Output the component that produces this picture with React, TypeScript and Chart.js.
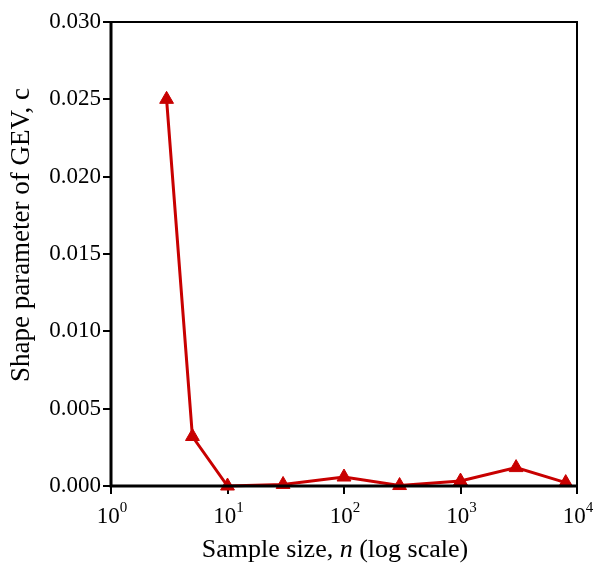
import React, { useEffect, useRef } from "react";
import { Chart, registerables } from "chart.js";

Chart.register(...registerables);

const sampleSizes = [3, 5, 10, 30, 100, 300, 1000, 3000, 8000];
const shapeValues = [0.0250, 0.0032, 0.0, 0.0001, 0.00058, 0.00003, 0.00032, 0.00119, 0.00022];
const xTickValues = [1, 10, 100, 1000, 10000];
const xTickExponents = ["0", "1", "2", "3", "4"];
const yTitle = "Shape parameter of GEV, c";
const xTitleParts = ["Sample size, ", "n", " (log scale)"];

const FONT = "'Liberation Serif', 'Times New Roman', serif";
const RED = "#c80000";

export default function App() {
  const ref = useRef<HTMLCanvasElement | null>(null);

  useEffect(() => {
    document.body.style.margin = "0";
    const canvas = ref.current!;
    const framePlugin = {
      id: "frame",
      afterDraw(chart: any) {
        const ctx = chart.ctx;
        const a = chart.chartArea;
        ctx.save();
        ctx.strokeStyle = "#000";
        ctx.lineWidth = 2;
        ctx.beginPath();
        ctx.moveTo(a.left, a.top);
        ctx.lineTo(a.right, a.top);
        ctx.lineTo(a.right, a.bottom);
        ctx.stroke();
        ctx.lineWidth = 3;
        ctx.beginPath();
        ctx.moveTo(a.left, a.top - 1);
        ctx.lineTo(a.left, a.bottom);
        ctx.lineTo(a.right + 1, a.bottom);
        ctx.stroke();
        // x tick labels with superscripts
        const xs = chart.scales.x;
        ctx.fillStyle = "#000";
        ctx.textBaseline = "alphabetic";
        xTickValues.forEach((v, i) => {
          const px = xs.getPixelForValue(v);
          ctx.font = `23px ${FONT}`;
          const w1 = ctx.measureText("10").width;
          ctx.font = `15px ${FONT}`;
          const w2 = ctx.measureText(xTickExponents[i]).width;
          const start = px - (w1 + w2) / 2 + 1;
          ctx.font = `23px ${FONT}`;
          ctx.fillText("10", start, a.bottom + 37);
          ctx.font = `15px ${FONT}`;
          ctx.fillText(xTickExponents[i], start + w1, a.bottom + 26);
        });
        // x title with italic n
        const fonts = [`26px ${FONT}`, `italic 26px ${FONT}`, `26px ${FONT}`];
        let total = 0;
        const widths = xTitleParts.map((t, i) => {
          ctx.font = fonts[i];
          const w = ctx.measureText(t).width;
          total += w;
          return w;
        });
        let x = (a.left + a.right) / 2 - 9 - total / 2;
        xTitleParts.forEach((t, i) => {
          ctx.font = fonts[i];
          ctx.fillText(t, x, a.bottom + 71);
          x += widths[i];
        });
        // y title
        ctx.save();
        ctx.translate(22, (a.top + a.bottom) / 2 - 19);
        ctx.rotate(-Math.PI / 2);
        ctx.font = `27px ${FONT}`;
        ctx.textAlign = "center";
        ctx.textBaseline = "middle";
        ctx.fillText(yTitle, 0, 0);
        ctx.restore();
        ctx.restore();
      },
    };

    const chart = new Chart(canvas, {
      type: "line",
      data: {
        datasets: [
          {
            data: sampleSizes.map((n, i) => ({ x: n, y: shapeValues[i] })),
            borderColor: RED,
            backgroundColor: RED,
            borderWidth: 3,
            pointStyle: "triangle",
            pointRadius: 8,
            pointBorderWidth: 1,
            tension: 0,
            clip: false as any,
          },
        ],
      },
      options: {
        animation: false,
        responsive: false,
        maintainAspectRatio: false,
        layout: { padding: { top: 22, right: 17, bottom: 0, left: 0 } },
        plugins: { legend: { display: false }, tooltip: { enabled: false } },
        scales: {
          x: {
            type: "logarithmic",
            min: 1,
            max: 10000,
            afterBuildTicks(scale: any) {
              scale.ticks = xTickValues.map((v) => ({ value: v }));
            },
            afterFit(scale: any) {
              scale.height = 81;
            },
            border: { display: false },
            grid: {
              display: true,
              drawOnChartArea: false,
              drawTicks: true,
              tickLength: 8,
              color: "#000",
              lineWidth: 2,
            },
            ticks: {
              color: "rgba(0,0,0,0)",
              font: { family: FONT, size: 20 },
              callback: () => "10",
              maxRotation: 0,
            },
            title: { display: false },
          },
          y: {
            min: 0,
            max: 0.03,
            afterFit(scale: any) {
              scale.width = 111;
            },
            border: { display: false },
            grid: {
              display: true,
              drawOnChartArea: false,
              drawTicks: true,
              tickLength: 8,
              color: "#000",
              lineWidth: 2,
            },
            ticks: {
              stepSize: 0.005,
              color: "#000",
              font: { family: FONT, size: 23 },
              padding: 2,
              callback: (v: any) => Number(v).toFixed(3),
            },
            title: { display: false },
          },
        },
      },
      plugins: [framePlugin],
    });
    return () => chart.destroy();
  }, []);

  return (
    <div style={{ width: 594, height: 567 }}>
      <canvas ref={ref} width={594} height={567} style={{ width: 594, height: 567 }} />
    </div>
  );
}
